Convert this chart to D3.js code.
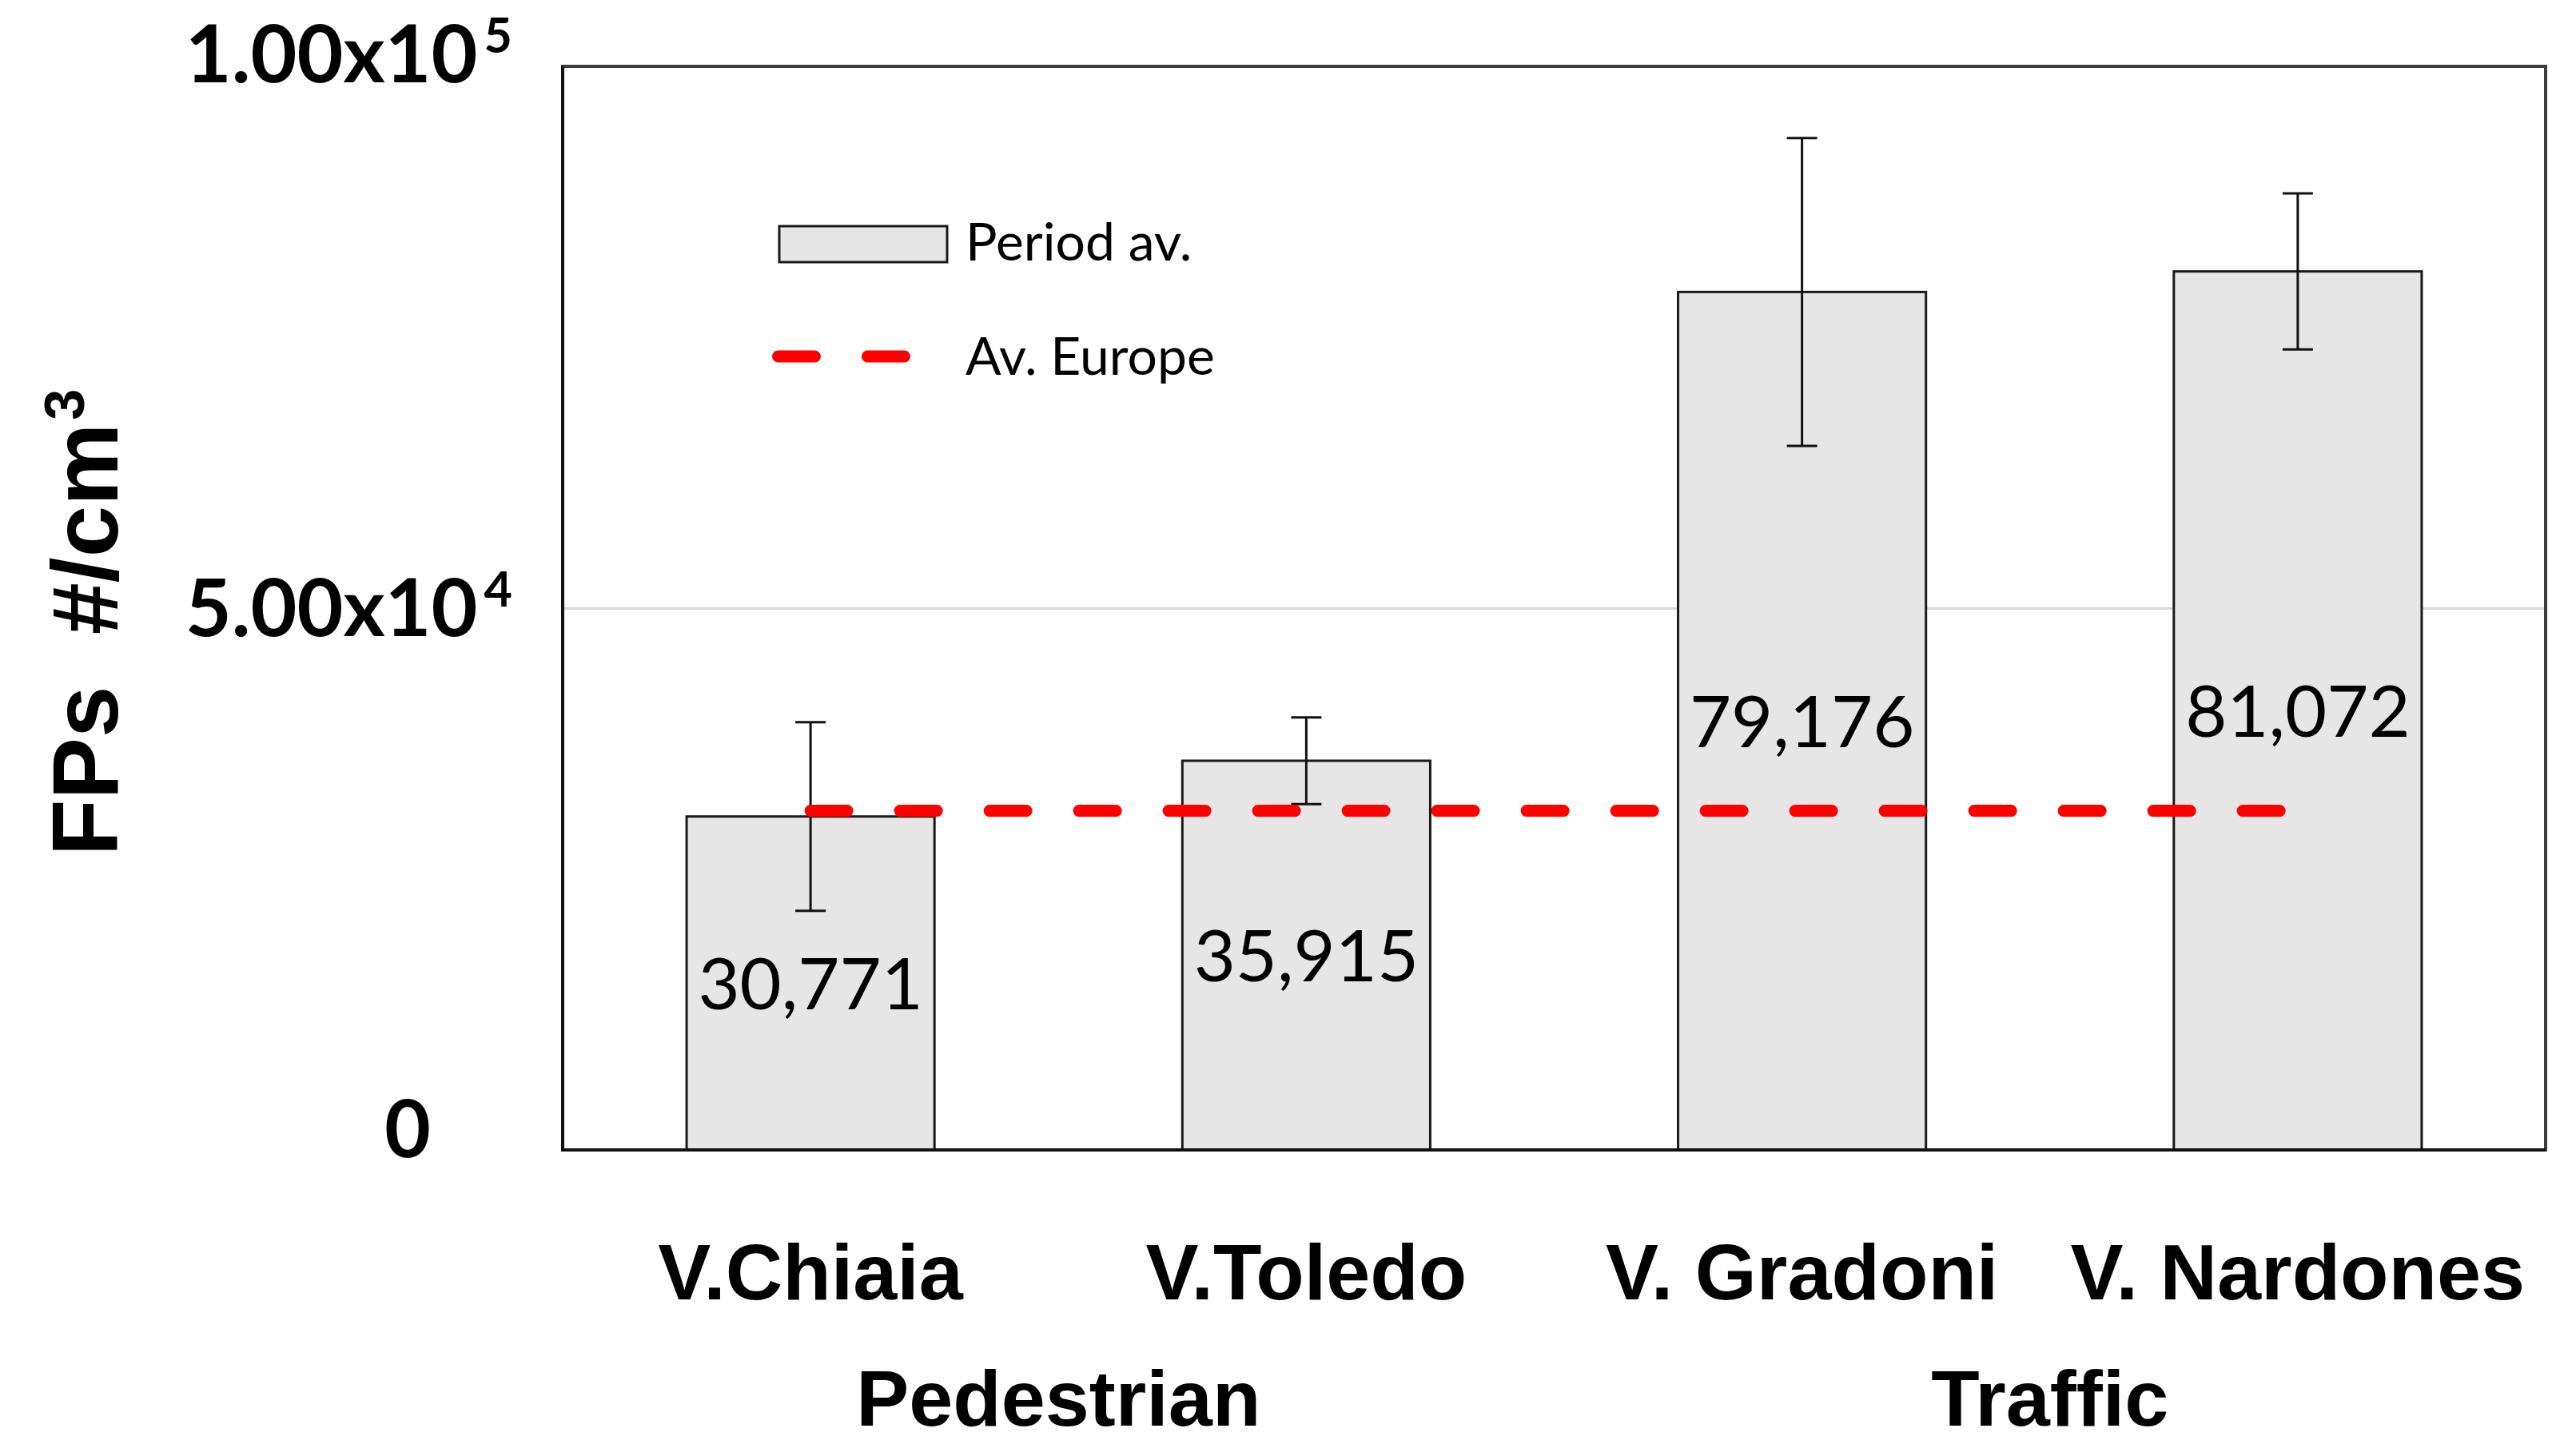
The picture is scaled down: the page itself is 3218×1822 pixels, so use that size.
<!DOCTYPE html>
<html>
<head>
<meta charset="utf-8">
<script src="https://cdn.jsdelivr.net/npm/d3@7"></script>
<style>
  body { margin: 0; background: #fff; }
  svg { display: block; }
  text { white-space: pre; }
</style>
</head>
<body>
<script>
'use strict';

const categories = ['V.Chiaia', 'V.Toledo', 'V. Gradoni', 'V. Nardones'];
const groupOf = ['Pedestrian', 'Pedestrian', 'Traffic', 'Traffic'];
const groups = ['Pedestrian', 'Traffic'];
const periodAv = [30771, 35915, 79176, 81072];
const periodErr = [8700, 4000, 14200, 7200];
const avEurope = 31300;
const yTicks = [0, 50000, 100000];
const legendLabels = ['Period av.', 'Av. Europe'];
const yTitle = 'FPs  #/cm';
const yTitleSup = '3';

const W = 3218;
const H = 1822;
const margin = {left: 704, right: 33, top: 83, bottom: 383};
const width = W - margin.left - margin.right;
const height = H - margin.top - margin.bottom;

const labelFont = '"Liberation Sans", Arial, sans-serif';
const numFont = 'Lato, "Open Sans", sans-serif';

const data = categories.map((c, i) => ({
  name: c,
  group: groupOf[i],
  value: periodAv[i],
  err: periodErr[i]
}));

const xScale = d3.scaleBand()
  .domain(categories)
  .range([0, width])
  .paddingInner(0.5)
  .paddingOuter(0.25);

const yScale = d3.scaleLinear()
  .domain([0, 100000])
  .range([height, 0]);

const svg = d3.select('body').append('svg')
  .attr('width', W)
  .attr('height', H);

const g = svg.append('g')
  .attr('transform', 'translate(' + [margin.left, margin.top] + ')');

// grid line at 5x10^4
g.append('g')
  .call(d3.axisLeft(yScale).tickValues([50000]).tickSize(-width).tickFormat(''))
  .call(s => s.select('.domain').remove())
  .selectAll('line')
  .attr('stroke', '#d9d9d9')
  .attr('stroke-width', 3);

// bars
g.append('g').selectAll('rect')
  .data(data)
  .enter()
  .append('rect')
  .attr('x', d => xScale(d.name))
  .attr('y', d => yScale(d.value))
  .attr('width', xScale.bandwidth())
  .attr('height', d => height - yScale(d.value))
  .attr('fill', '#e6e6e6')
  .attr('stroke', '#1a1a1a')
  .attr('stroke-width', 3);

// error bars
const cx = d => xScale(d.name) + xScale.bandwidth() / 2;
const capHalf = 19;
const errG = g.append('g')
  .attr('stroke', '#111')
  .attr('stroke-width', 3);

const eb = errG.selectAll('g')
  .data(data)
  .enter()
  .append('g');

eb.append('line')
  .attr('x1', cx).attr('x2', cx)
  .attr('y1', d => yScale(d.value + d.err))
  .attr('y2', d => yScale(d.value - d.err));
eb.append('line')
  .attr('x1', d => cx(d) - capHalf).attr('x2', d => cx(d) + capHalf)
  .attr('y1', d => yScale(d.value + d.err))
  .attr('y2', d => yScale(d.value + d.err));
eb.append('line')
  .attr('x1', d => cx(d) - capHalf).attr('x2', d => cx(d) + capHalf)
  .attr('y1', d => yScale(d.value - d.err))
  .attr('y2', d => yScale(d.value - d.err));

// Europe average line
const lineGenerator = d3.line()
  .x(d => cx(d))
  .y(() => yScale(avEurope));

const dashStyle = s => s
  .attr('fill', 'none')
  .attr('stroke', '#ff0000')
  .attr('stroke-width', 15)
  .attr('stroke-linecap', 'round')
  .attr('stroke-dasharray', '46 66');

g.append('path')
  .datum(data)
  .attr('d', lineGenerator)
  .call(dashStyle);

// value labels at bar middle
const fmt = d3.format(',');
g.append('g').selectAll('text')
  .data(data)
  .enter()
  .append('text')
  .attr('x', cx)
  .attr('y', d => yScale(d.value / 2) + 33)
  .attr('text-anchor', 'middle')
  .attr('font-family', numFont)
  .attr('font-size', 90)
  .attr('fill', '#000')
  .text(d => fmt(d.value));

// plot frame
g.append('rect')
  .attr('width', width)
  .attr('height', height)
  .attr('fill', 'none')
  .attr('stroke', '#3c3c3c')
  .attr('stroke-width', 4);
g.append('path')
  .attr('d', 'M0,0V' + height + 'H' + width)
  .attr('fill', 'none')
  .attr('stroke', '#111')
  .attr('stroke-width', 4);

// y axis labels
const tickNudge = {0: {x: -165, dy: 8}, 50000: {x: -63, dy: 34}, 100000: {x: -63, dy: 19}};
const yAxis = g.append('g')
  .call(d3.axisLeft(yScale).tickValues(yTicks).tickSize(0).tickFormat(''));
yAxis.select('.domain').remove();
yAxis.selectAll('.tick text')
  .attr('x', d => tickNudge[d].x)
  .attr('dy', null)
  .attr('y', d => tickNudge[d].dy)
  .attr('font-family', numFont)
  .attr('font-weight', 700)
  .attr('font-size', 100)
  .attr('fill', '#000')
  .attr('text-anchor', 'end')
  .each(function(d) {
    const t = d3.select(this);
    if (d === 0) {
      t.text('0');
      return;
    }
    const exp = Math.floor(Math.log10(d));
    t.append('tspan').text((d / Math.pow(10, exp)).toFixed(2) + 'x10');
    t.append('tspan')
      .attr('dx', 8)
      .attr('dy', -37)
      .attr('font-size', 61)
      .text(exp);
  });

// x axis labels
const xAxis = g.append('g')
  .attr('transform', 'translate(0,' + height + ')')
  .call(d3.axisBottom(xScale).tickSize(0));
xAxis.select('.domain').remove();
xAxis.selectAll('.tick text')
  .attr('y', 187)
  .attr('dy', null)
  .attr('font-family', labelFont)
  .attr('font-weight', 700)
  .attr('font-size', 99)
  .attr('fill', '#000');

// group labels
g.append('g').selectAll('text')
  .data(groups)
  .enter()
  .append('text')
  .attr('x', grp => d3.mean(data.filter(d => d.group === grp), cx))
  .attr('y', height + 345)
  .attr('text-anchor', 'middle')
  .attr('font-family', labelFont)
  .attr('font-weight', 700)
  .attr('font-size', 99)
  .attr('fill', '#000')
  .text(grp => grp);

// y title
const title = svg.append('text')
  .attr('transform', 'translate(147,779) rotate(-90)')
  .attr('text-anchor', 'middle')
  .attr('font-family', labelFont)
  .attr('font-weight', 700)
  .attr('font-size', 116)
  .attr('fill', '#000');
title.append('tspan').text(yTitle);
title.append('tspan')
  .attr('dx', 4)
  .attr('dy', -42)
  .attr('font-size', 70)
  .text(yTitleSup);

// legend
const legend = svg.append('g')
  .attr('transform', 'translate(975,283)');
legend.append('rect')
  .attr('width', 210)
  .attr('height', 45)
  .attr('fill', '#e6e6e6')
  .attr('stroke', '#1a1a1a')
  .attr('stroke-width', 3);
legend.append('line')
  .attr('x1', -1.5).attr('x2', 158)
  .attr('y1', 163).attr('y2', 163)
  .call(dashStyle);
legend.selectAll('text.lg')
  .data(legendLabels)
  .enter()
  .append('text')
  .attr('class', 'lg')
  .attr('x', 233)
  .attr('y', (d, i) => 43 + i * 143)
  .attr('font-family', numFont)
  .attr('font-size', 66)
  .attr('fill', '#000')
  .text(d => d);
</script>
</body>
</html>
